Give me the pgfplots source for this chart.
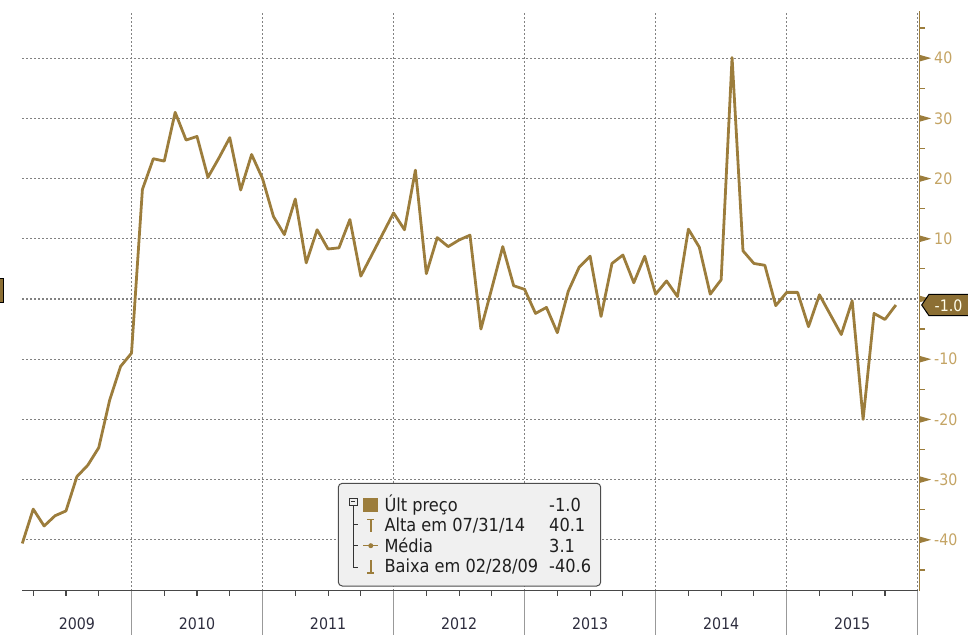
\documentclass[border=0pt]{standalone}
\usepackage{fontspec}
\usepackage{pgfplots}
\usepackage{pgfplotstable}
\pgfplotsset{compat=1.18}
\IfFontExistsTF{DejaVu Sans Condensed}{%
  \setmainfont{DejaVu Sans Condensed}\def\axfs{15.8}\def\lgfs{18}}{%
  \setmainfont{DejaVu Sans}\def\axfs{14.8}\def\lgfs{16.4}}
\newcommand\axfont{\fontsize{\axfs}{\axfs}\selectfont}
\newcommand\lgfont{\fontsize{\lgfs}{\lgfs}\selectfont}

\definecolor{gold}{RGB}{156,125,60}
\definecolor{goldtxt}{RGB}{196,164,100}
\definecolor{tagfill}{RGB}{140,111,52}
\definecolor{yeartxt}{RGB}{45,45,62}
\definecolor{gridc}{RGB}{130,130,130}

\pgfplotstableread{
m v
2 -40.6
3 -34.9
4 -37.7
5 -36.0
6 -35.2
7 -29.5
8 -27.6
9 -24.7
10 -16.8
11 -11.2
12 -9.0
13 18.2
14 23.3
15 22.9
16 31.0
17 26.4
18 27.0
19 20.2
20 23.4
21 26.8
22 18.1
23 24.0
24 20.0
25 13.7
26 10.7
27 16.6
28 6.0
29 11.5
30 8.3
31 8.5
32 13.2
33 3.8
34 7.3
35 10.8
36 14.3
37 11.5
38 21.4
39 4.2
40 10.2
41 8.7
42 9.8
43 10.6
44 -5.0
45 1.8
46 8.7
47 2.2
48 1.6
49 -2.4
50 -1.4
51 -5.6
52 1.3
53 5.3
54 7.1
55 -2.9
56 5.9
57 7.3
58 2.7
59 7.1
60 0.8
61 3.0
62 0.4
63 11.6
64 8.6
65 0.8
66 3.2
67 40.1
68 8.0
69 5.9
70 5.6
71 -1.1
72 1.1
73 1.1
74 -4.6
75 0.7
76 -2.6
77 -5.9
78 -0.3
79 -20.0
80 -2.4
81 -3.4
82 -1.0
}\datatable

\begin{document}
\begin{tikzpicture}
\useasboundingbox (0,0) rectangle (968pt,634pt);
\begin{axis}[
  at={(22.3pt,43.3pt)}, anchor=south west,
  scale only axis, width=895.4pt, height=578.7pt,
  xmin=2, xmax=84, ymin=-48.45, ymax=47.67,
  axis line style={draw=none},
  xtick={12,24,36,48,60,72,84}, xticklabels={},
  ytick={-40,-30,-20,-10,0,10,20,30,40},
  yticklabels={-40,-30,-20,-10,,10,20,30,40},
  yticklabel pos=right,
  major tick length=0pt, minor tick length=0pt,
  xmajorgrids, ymajorgrids,
  grid style={gridc, line width=1.3pt, dash pattern=on 1.5pt off 2.5pt},
  yticklabel style={anchor=west, inner sep=0pt, xshift=16.3pt, font=\axfont, text=goldtxt},
  clip=false,
]
% bottom axis
\draw[black!72, line width=1.3pt] (rel axis cs:0,0) -- (rel axis cs:1,0);
\pgfplotsinvokeforeach{3,6,...,84}{
  \draw[black!72, line width=1.1pt] (axis cs:#1,-48.45) -- ([yshift=-5pt]axis cs:#1,-48.45);
}
\pgfplotsinvokeforeach{12,24,...,84}{
  \draw[black!40, line width=1.1pt] (axis cs:#1,-48.45) -- ([yshift=-44pt]axis cs:#1,-48.45);
}
% year labels
\node[anchor=base, inner sep=0pt, font=\axfont, text=yeartxt] at ([yshift=-38.6pt]axis cs:7,-48.45) {2009};
\node[anchor=base, inner sep=0pt, font=\axfont, text=yeartxt] at ([yshift=-38.6pt]axis cs:18,-48.45) {2010};
\node[anchor=base, inner sep=0pt, font=\axfont, text=yeartxt] at ([yshift=-38.6pt]axis cs:30,-48.45) {2011};
\node[anchor=base, inner sep=0pt, font=\axfont, text=yeartxt] at ([yshift=-38.6pt]axis cs:42,-48.45) {2012};
\node[anchor=base, inner sep=0pt, font=\axfont, text=yeartxt] at ([yshift=-38.6pt]axis cs:54,-48.45) {2013};
\node[anchor=base, inner sep=0pt, font=\axfont, text=yeartxt] at ([yshift=-38.6pt]axis cs:66,-48.45) {2014};
\node[anchor=base, inner sep=0pt, font=\axfont, text=yeartxt] at ([yshift=-38.6pt]axis cs:78,-48.45) {2015};
% right axis
\draw[gold, line width=1.5pt] ([xshift=1.6pt]rel axis cs:1,0) -- ([xshift=1.6pt,yshift=0.5pt]rel axis cs:1,1);
\pgfplotsinvokeforeach{-40,-30,...,40}{
  \fill[gold] ([xshift=1.6pt,yshift=3.4pt]axis cs:84,#1) -- ([xshift=13.5pt]axis cs:84,#1) -- ([xshift=1.6pt,yshift=-3.4pt]axis cs:84,#1) -- cycle;
}
\pgfplotsinvokeforeach{-45,-35,...,45}{
  \draw[gold, line width=1.2pt] ([xshift=1.6pt]axis cs:84,#1) -- ([xshift=7.6pt]axis cs:84,#1);
}
% data
\addplot[gold, line width=2.8pt, line join=round, mark=none] table[x=m,y=v]{\datatable};
\end{axis}

\begin{scope}[x=1pt,y=-1pt,shift={(0pt,634pt)}]
% last value tag
\filldraw[fill=tagfill, draw=black, line width=1pt] (921.7,305) -- (929,294.3) -- (975,294.3) -- (975,315.7) -- (929,315.7) -- cycle;
\node[anchor=base west, inner sep=0pt, font=\axfont, text=white!92!yellow] at (934.5,311.5) {-1.0};
% left marker
\filldraw[fill=tagfill, draw=black, line width=1pt] (-4,279) rectangle (3.2,303);
% legend
\draw[rounded corners=4pt, fill=black!6, draw=black!70, line width=1pt] (338.3,483.3) rectangle (600.7,586);
\draw[black!80, line width=0.8pt] (349.8,498) rectangle (357,505.2);
\draw[black!80, line width=0.8pt] (351.4,501.6) -- (355.4,501.6);
\draw[black!80, line width=0.9pt] (353.4,505.2) -- (353.4,567.3) -- (357.5,567.3);
\draw[black!80, line width=0.9pt] (353.4,524.5) -- (357.5,524.5);
\draw[black!80, line width=0.9pt] (353.4,545.7) -- (357.5,545.7);
\fill[gold] (363.3,498.3) rectangle (378.3,511.7);
\draw[gold, line width=1.4pt] (367.3,519.5) -- (374.3,519.5) (370.8,519.5) -- (370.8,532);
\draw[gold, line width=1.3pt] (363.3,545.7) -- (378.3,545.7);
\fill[gold] (370.8,545.7) circle (2.5);
\draw[gold, line width=1.4pt] (370.8,560.5) -- (370.8,573) (367.3,573) -- (374.3,573);
\node[anchor=base west, inner sep=0pt, font=\lgfont, text=black!88] at (384.3,511.5) {Últ preço};
\node[anchor=base west, inner sep=0pt, font=\lgfont, text=black!88] at (384.3,532) {Alta em 07/31/14};
\node[anchor=base west, inner sep=0pt, font=\lgfont, text=black!88] at (384.3,552.5) {Média};
\node[anchor=base west, inner sep=0pt, font=\lgfont, text=black!88] at (384.3,573) {Baixa em 02/28/09};
\node[anchor=base west, inner sep=0pt, font=\lgfont, text=black!88] at (549,511.5) {-1.0};
\node[anchor=base west, inner sep=0pt, font=\lgfont, text=black!88] at (549,532) {40.1};
\node[anchor=base west, inner sep=0pt, font=\lgfont, text=black!88] at (549,552.5) {3.1};
\node[anchor=base west, inner sep=0pt, font=\lgfont, text=black!88] at (549,573) {-40.6};
\end{scope}
\end{tikzpicture}
\end{document}
